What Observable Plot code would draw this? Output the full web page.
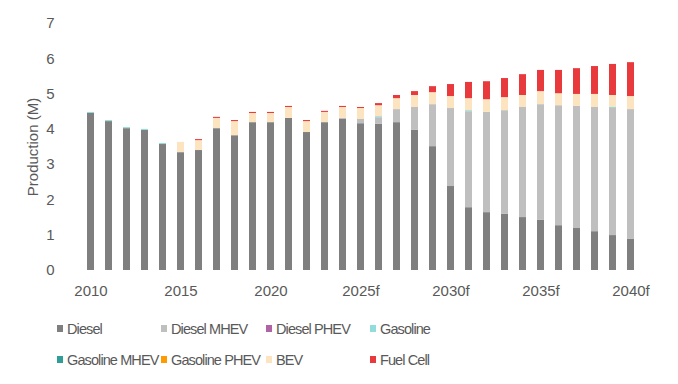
<!DOCTYPE html>
<html>
<head>
<meta charset="utf-8">
<script src="https://cdn.jsdelivr.net/npm/d3@7"></script>
<script src="https://cdn.jsdelivr.net/npm/@observablehq/plot@0.6"></script>
<style>
  html, body { margin: 0; padding: 0; background: #fff; }
  body { width: 678px; height: 384px; overflow: hidden; font-family: "Liberation Sans", Arial, sans-serif; }
  #legend { display: grid; grid-template-columns: 104px 105px 104px 104px; grid-auto-rows: 31px; margin-top: 8px; padding-left: 57px; }
  .item { display: flex; align-items: center; font-size: 14.5px; letter-spacing: -0.9px; color: #595959; white-space: nowrap; }
  .sw { width: 6px; height: 7px; margin-right: 4px; flex: none; }
</style>
</head>
<body>
<div id="chart"></div>
<div id="legend"></div>
<script>
const years = ["2010","2011","2012","2013","2014","2015","2016","2017","2018","2019","2020","2021","2022","2023","2024","2025","2026","2027","2028","2029","2030","2031","2032","2033","2034","2035","2036","2037","2038","2039","2040"];
const tickYears = ["2010","2015","2020","2025","2030","2035","2040"];
const tickLabels = ["2010","2015","2020","2025f","2030f","2035f","2040f"];
const yTicks = [0,1,2,3,4,5,6,7];

const seriesNames = ["Diesel","Diesel MHEV","Diesel PHEV","Gasoline","Gasoline MHEV","Gasoline PHEV","BEV","Fuel Cell"];
const seriesColors = ["#7f7f7f","#bfbfbf","#b064a5","#93dcdc","#2e9e96","#ff9a00","#fde4c0","#e8393d"];

const diesel       = [4.45,4.22,4.02,3.97,3.57,3.34,3.40,4.02,3.82,4.19,4.19,4.31,3.91,4.19,4.28,4.16,4.14,4.19,3.97,3.51,2.38,1.78,1.64,1.59,1.50,1.42,1.27,1.19,1.10,0.99,0.88];
const dieselMHEV   = [0,0,0,0,0,0,0,0,0,0,0,0,0,0,0.03,0.12,0.19,0.37,0.65,1.19,2.21,2.72,2.84,2.94,3.12,3.28,3.40,3.46,3.52,3.60,3.68];
const dieselPHEV   = [0,0,0,0,0,0,0,0,0,0,0,0,0,0,0,0,0,0,0,0,0,0,0,0,0,0,0,0,0,0,0];
const gasoline     = [0.03,0.03,0.03,0.03,0.03,0,0,0,0,0,0,0,0,0,0,0,0.03,0,0,0,0,0.03,0,0,0,0,0,0,0,0.03,0];
const gasolineMHEV = [0,0,0,0,0,0,0,0,0,0,0,0,0,0,0,0,0,0,0,0,0,0,0,0,0,0,0,0,0,0,0];
const gasolinePHEV = [0,0,0,0,0,0,0,0,0,0,0,0,0,0,0,0,0,0,0,0,0,0,0,0,0,0,0,0,0,0,0];
const bev          = [0,0,0,0,0,0.29,0.28,0.29,0.40,0.26,0.26,0.31,0.31,0.29,0.31,0.31,0.31,0.31,0.34,0.34,0.34,0.34,0.36,0.37,0.34,0.37,0.34,0.34,0.37,0.34,0.37];
const fuelCell     = [0,0,0,0,0,0,0.03,0.03,0.03,0.03,0.03,0.03,0.03,0.03,0.03,0.03,0.06,0.09,0.11,0.17,0.34,0.46,0.51,0.54,0.59,0.60,0.66,0.73,0.79,0.88,0.96];

const seriesValues = [diesel, dieselMHEV, dieselPHEV, gasoline, gasolineMHEV, gasolinePHEV, bev, fuelCell];

const rows = [];
seriesNames.forEach((s, i) => {
  years.forEach((y, j) => rows.push({year: y, series: s, value: seriesValues[i][j]}));
});

const labelMap = new Map(tickYears.map((y, i) => [y, tickLabels[i]]));

const chart = Plot.plot({
  width: 678,
  height: 305,
  marginLeft: 70,
  marginRight: 28,
  marginTop: 23,
  marginBottom: 35,
  style: { fontFamily: "'Liberation Sans', Arial, sans-serif", fontSize: "15px", color: "#595959", background: "#fff" },
  x: { domain: years, padding: 0.62, label: null },
  y: { domain: [0, 7], label: null },
  color: { domain: seriesNames, range: seriesColors },
  marks: [
    Plot.axisX({ ticks: tickYears, tickFormat: d => labelMap.get(d), tickSize: 0, tickPadding: 15, label: null, fontSize: 15, style: "letter-spacing:0.6px" }),
    Plot.axisY({ ticks: yTicks, tickFormat: d => String(d), tickSize: 0, tickPadding: 16, label: null, fontSize: 15 }),
    Plot.barY(rows, { x: "year", y: "value", fill: "series", order: seriesNames }),
    Plot.text(["Production (M)"], { frameAnchor: "left", textAnchor: "middle", rotate: -90, dx: -37, fontSize: 15, fill: "#595959", text: d => d, style: "letter-spacing:0.5px" })
  ]
});
document.getElementById("chart").appendChild(chart);

const legend = document.getElementById("legend");
seriesNames.forEach((s, i) => {
  const it = document.createElement("div");
  it.className = "item";
  const sw = document.createElement("span");
  sw.className = "sw";
  sw.style.background = seriesColors[i];
  it.appendChild(sw);
  it.appendChild(document.createTextNode(s));
  legend.appendChild(it);
});
</script>
</body>
</html>
